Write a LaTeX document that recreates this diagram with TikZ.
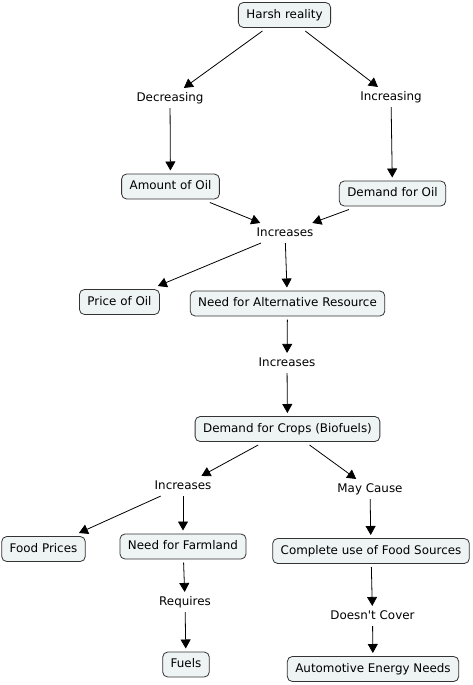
\documentclass[tikz,border=0pt]{standalone}
\usepackage{fontspec}
\setmainfont{DejaVu Sans}
\usetikzlibrary{arrows.meta}
\definecolor{boxfill}{HTML}{EEF3F3}
\definecolor{boxline}{HTML}{333333}
\begin{document}
\begin{tikzpicture}[x=1pt,y=-1pt,
  every node/.style={font=\fontsize{11.9}{14}\selectfont, text height=8.6pt, text depth=2.5pt},
  concept/.style={draw=boxline, fill=boxfill, rounded corners=5pt, line width=0.8pt,
     minimum height=25pt, inner xsep=8pt, inner ysep=2pt, outer sep=3.5pt},
  linkword/.style={inner sep=1pt, outer sep=3.5pt},
  conn/.style={line width=0.8pt, -{Triangle[length=9pt,width=10pt]}}]
\useasboundingbox (0,0) rectangle (473,685);
\fill[white] (0,0) rectangle (473,685);
% concepts
\node[concept] (hr) at (284.5,15) {Harsh reality};
\node[linkword] (dec) at (170,98) {Decreasing};
\node[linkword] (inc) at (391,97) {Increasing};
\node[concept] (amt) at (170.5,186.5) {Amount of Oil};
\node[concept] (dem) at (392.5,193.5) {Demand for Oil};
\node[linkword] (inc1) at (285,233) {Increases};
\node[concept] (price) at (119.5,302) {Price of Oil};
\node[concept] (need) at (287.5,303.5) {Need for Alternative Resource};
\node[linkword] (inc2) at (287,363) {Increases};
\node[concept] (crops) at (287.5,429) {Demand for Crops (Biofuels)};
\node[linkword] (inc3) at (183,486) {Increases};
\node[linkword] (may) at (370,489) {May Cause};
\node[concept] (food) at (43.5,549) {Food Prices};
\node[concept] (farm) at (183,546.5) {Need for Farmland};
\node[concept] (comp) at (371,551) {Complete use of Food Sources};
\node[linkword] (req) at (185,602) {Requires};
\node[linkword] (doesnt) at (372.5,616) {Doesn\textquotesingle t Cover};
\node[concept] (fuels) at (186,664.5) {Fuels};
\node[concept] (auto) at (373,669) {Automotive Energy Needs};
% connectors
\draw[conn] (hr) -- (dec);
\draw[conn] (hr) -- (inc);
\draw[conn] (dec) -- (amt);
\draw[conn] (inc) -- (dem);
\draw[conn] (amt) -- (inc1);
\draw[conn] (dem) -- (inc1);
\draw[conn] (inc1) -- (price);
\draw[conn] (inc1) -- (need);
\draw[conn] (need) -- (inc2);
\draw[conn] (inc2) -- (crops);
\draw[conn] (crops) -- (inc3);
\draw[conn] (crops) -- (may);
\draw[conn] (inc3) -- (food);
\draw[conn] (inc3) -- (farm);
\draw[conn] (may) -- (comp);
\draw[conn] (farm) -- (req);
\draw[conn] (req) -- (fuels);
\draw[conn] (comp) -- (doesnt);
\draw[conn] (doesnt) -- (auto);
\end{tikzpicture}
\end{document}
